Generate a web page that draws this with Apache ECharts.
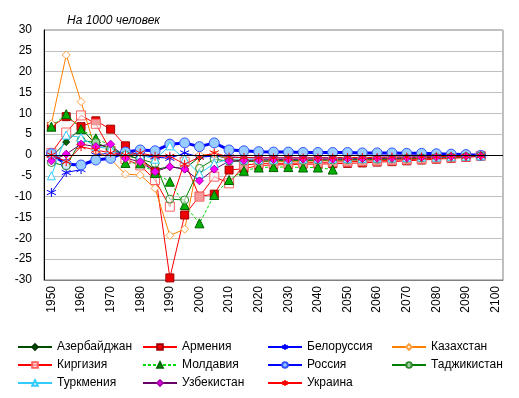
<!DOCTYPE html>
<html lang="ru">
<head>
    <meta charset="UTF-8">
    <title>На 1000 человек</title>
    <script src="https://cdn.jsdelivr.net/npm/echarts@6.0.0/dist/echarts.min.js"></script>
    <style>
        * { margin: 0; padding: 0; box-sizing: border-box; }
        html, body { width: 100%; height: 100%; background: #fff; overflow: hidden; }
        #chart { width: 519px; height: 398px; }
    </style>
</head>
<body>
    <div id="chart"></div>
    <script>
        // годы 1950..2100 с шагом 5 (данные до 2095)
        const years = [];
        for (let y = 1950; y <= 2100; y += 5) years.push(String(y));

        const yTicks = { min: -30, max: 30, step: 5 };

        const azerbaijan = [-0.5, 3.1, 6.5, 2.5, 1.8, 0, -1, -3.5, -2.8, -3.3, -0.5, 0, -1, -1.5, -1.5, -1.5, -1.4, -1.4, -1.3, -1.3, -1.2, -1.2, -1.1, -1, -0.9, -0.8, -0.7, -0.6, -0.4, -0.2];
        const armenia = [6.8, 9.2, 6.8, 8.2, 6.2, 2.2, -1, -4, -29.5, -14.4, -9.9, -9.4, -3.6, -3.3, -2.5, -2.4, -2.3, -2.2, -2.2, -2.1, -2, -1.9, -1.7, -1.6, -1.4, -1.2, -1, -0.8, -0.6, -0.3];
        const belarus = [-9, -4.2, -3.5, 0, 0.5, 0.5, 0, -0.5, -0.8, 0.5, -0.5, -0.3, -0.5, -0.6, -0.7, -0.7, -0.7, -0.7, -0.7, -0.6, -0.6, -0.6, -0.5, -0.5, -0.5, -0.4, -0.4, -0.3, -0.2, -0.1];
        const kazakhstan = [7.5, 24, 12.8, 1, -1, -4.6, -4.8, -8, -19.3, -17.8, 0, 0.2, -1, -1.2, -1.5, -1.5, -1.5, -1.5, -1.4, -1.3, -1.2, -1.1, -1, -0.9, -0.8, -0.7, -0.6, -0.5, -0.4, -0.2];
        const kyrgyzstan = [0.5, 5.4, 9.5, 7.5, 1, -1, -2.5, -6, -12.4, -1.6, -10, -5.2, -6.8, -2.5, -2, -2, -2, -1.9, -1.8, -1.7, -1.6, -1.5, -1.4, -1.3, -1.1, -1, -0.8, -0.6, -0.4, -0.2];
        const moldova = [6.8, 9.8, 6.2, 4, 2.3, -1.9, -2, -4.3, -6.4, -12, -16.4, -9.6, -6, -3.8, -3, -2.9, -2.9, -3, -3, -3.5];
        const russia = [0.3, -2.2, -2.4, -1.2, -0.8, 0.7, 1.2, 1.0, 2.6, 2.9, 2.0, 2.9, 1.2, 1.0, 0.8, 0.7, 0.7, 0.6, 0.6, 0.6, 0.6, 0.5, 0.5, 0.5, 0.4, 0.4, 0.3, 0.2, 0.1, -0.1];
        const tajikistan = [-1.8, -2.6, 3.5, 3, 1.5, 0, -1, -2, -10.6, -10.8, -3.2, -1, -1.5, -1.5, -1.5, -1.4, -1.3, -1.3, -1.2, -1.2, -1.1, -1, -1, -0.9, -0.8, -0.7, -0.6, -0.5, -0.4, -0.2];
        const turkmenistan = [-5, 4.8, 4.2, 2, 1.5, 0.5, 0, -1, 2.2, -1, -4.5, -2, -1, -1, -1, -1, -1, -0.9, -0.9, -0.9, -0.8, -0.8, -0.7, -0.7, -0.6, -0.5, -0.5, -0.4, -0.3, -0.2];
        const uzbekistan = [-1.4, 0.2, 2.6, 2, 2.6, -0.8, -1.6, -4, -2.8, -3.4, -6.2, -3.4, -1.5, -1.3, -1.2, -1.1, -1.1, -1, -1, -1, -0.9, -0.9, -0.8, -0.8, -0.7, -0.6, -0.5, -0.4, -0.3, -0.2];
        const ukraine = [0, -1.6, 2, 1.2, 0.5, 0, 0.5, -0.3, -0.3, -2.2, -0.5, 0.5, -0.5, -0.6, -0.7, -0.7, -0.7, -0.7, -0.7, -0.7, -0.6, -0.6, -0.6, -0.5, -0.5, -0.5, -0.4, -0.3, -0.3, -0.2];

        const ASTER = 'path://M5,0L5,10M0.7,2.5L9.3,7.5M9.3,2.5L0.7,7.5';

        function line(name, data, color, symbol, size, fill, border, extra) {
            const s = {
                name: name,
                type: 'line',
                data: data,
                symbol: symbol,
                symbolSize: size,
                showAllSymbol: true,
                connectNulls: false,
                lineStyle: { color: color, width: 1 },
                itemStyle: { color: fill, borderColor: border, borderWidth: 1 }
            };
            return Object.assign(s, extra || {});
        }

        const series = [
            line('Азербайджан', azerbaijan, '#004d00', 'diamond', 7, '#006400', '#003300'),
            line('Армения', armenia, '#ff0000', 'rect', 8, '#ee0000', '#a00000'),
            line('Белоруссия', belarus, '#0000ff', ASTER, 9, '#0000ff', '#0000ff'),
            line('Казахстан', kazakhstan, '#ff8000', 'diamond', 8, '#ffffff', '#ffa040'),
            line('Киргизия', kyrgyzstan, '#ff0000', 'rect', 9, 'rgba(255,255,255,0.6)', '#ff6060'),
            line('Молдавия', moldova, '#00dd00', 'triangle', 9, '#00b000', '#006000',
                { lineStyle: { color: '#00dd00', width: 1, type: [3, 2] } }),
            line('Россия', russia, '#0000ff', 'circle', 10, '#99ccff', '#3355ff',
                { lineStyle: { color: '#0000ff', width: 3 }, z: 3 }),
            line('Таджикистан', tajikistan, '#008000', 'circle', 8, 'rgba(255,255,255,0.6)', '#2e8b2e'),
            line('Туркмения', turkmenistan, '#33ccff', 'triangle', 8, '#ffffff', '#33ccff'),
            line('Узбекистан', uzbekistan, '#660066', 'diamond', 8, '#ff00ff', '#aa00aa'),
            line('Украина', ukraine, '#ff0000', ASTER, 9, '#ff0000', '#ff0000')
        ];

        // линия нуля
        series[0].markLine = {
            silent: true,
            symbol: 'none',
            label: { show: false },
            lineStyle: { color: '#000', width: 1, type: 'solid' },
            data: [{ yAxis: 0 }]
        };

        const cols = [
            ['Азербайджан', 'Киргизия', 'Туркмения'],
            ['Армения', 'Молдавия', 'Узбекистан'],
            ['Белоруссия', 'Россия', 'Украина'],
            ['Казахстан', 'Таджикистан']
        ];
        const colLeft = [17, 142, 267, 391];
        const legends = cols.map((names, i) => ({
            data: names,
            orient: 'vertical',
            left: colLeft[i],
            top: 341,
            height: 57,
            padding: 0,
            itemWidth: 34,
            itemHeight: 7,
            itemGap: 6,
            selectedMode: false,
            textStyle: { fontFamily: 'Liberation Sans, Arial', fontSize: 12, color: '#000' }
        }));

        const chart = echarts.init(document.getElementById('chart'), null, { renderer: 'canvas' });
        chart.setOption({
            animation: false,
            backgroundColor: '#fff',
            title: {
                text: 'На 1000 человек',
                left: 62,
                top: 10,
                textStyle: { fontFamily: 'Liberation Sans, Arial', fontSize: 12, fontStyle: 'italic', fontWeight: 'normal', color: '#000' }
            },
            legend: legends,
            grid: { left: 44, right: 16, top: 30, bottom: 118, show: true, borderColor: '#808080', borderWidth: 1 },
            xAxis: {
                type: 'category',
                data: years,
                boundaryGap: true,
                axisLine: { onZero: false, lineStyle: { color: '#808080' } },
                axisTick: { show: false },
                axisLabel: {
                    interval: 1, rotate: 90, margin: 6,
                    fontFamily: 'Liberation Sans, Arial', fontSize: 12, color: '#000'
                }
            },
            yAxis: {
                type: 'value',
                min: yTicks.min,
                max: yTicks.max,
                interval: yTicks.step,
                axisLine: { show: true, lineStyle: { color: '#000' } },
                axisTick: { show: false },
                splitLine: { lineStyle: { color: '#c0c0c0' } },
                axisLabel: { fontFamily: 'Liberation Sans, Arial', fontSize: 12, color: '#000', margin: 12 }
            },
            series: series
        });
    </script>
</body>
</html>
